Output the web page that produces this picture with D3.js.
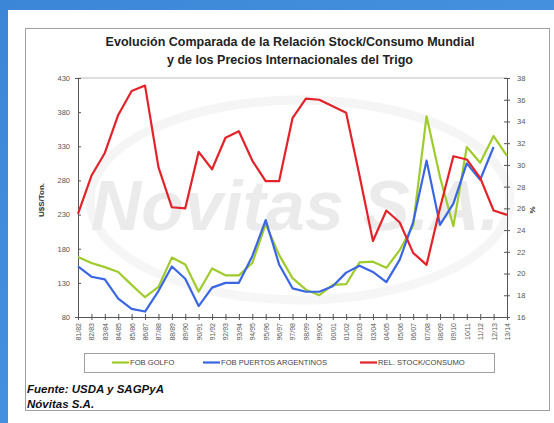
<!DOCTYPE html>
<html>
<head>
<meta charset="utf-8">
<script src="https://cdn.jsdelivr.net/npm/d3@7.9.0/dist/d3.min.js"></script>
<style>
  html, body { margin: 0; padding: 0; background: #3f8ddb; }
  svg { display: block; font-family: Arial, "Liberation Sans", sans-serif; }
</style>
</head>
<body>
<svg id="chart" width="554" height="423"></svg>
<script>
const seasons = ['81/82', '82/83', '83/84', '84/85', '85/86', '86/87', '87/88', '88/89', '89/90', '90/91',
  '91/92', '92/93', '93/94', '94/95', '95/96', '96/97', '97/98', '98/99', '99/00', '00/01',
  '01/02', '02/03', '03/04', '04/05', '05/06', '06/07', '07/08', '08/09', '09/10', '10/11',
  '11/12', '12/13', '13/14'];

// U$S/Ton.
const fobGolfo = [168, 159, 153, 146, 127, 109, 124, 167, 157, 117,
  151, 141, 141, 159, 216, 171, 137, 120, 112, 127,
  128, 160, 161, 152, 178, 214, 374, 285, 213, 329,
  306, 345, 316];

const fobArgentina = [154, 139, 135, 107, 92, 88, 118, 154, 136, 96,
  123, 130, 130, 169, 222, 157, 122, 117, 117, 125,
  145, 155, 146, 131, 164, 219, 309, 215, 246, 305,
  281, 329];

// %
const stockConsumo = [25.5, 29.0, 31.1, 34.6, 36.8, 37.3, 29.8, 26.1, 26.0, 31.2,
  29.6, 32.5, 33.1, 30.4, 28.5, 28.5, 34.3, 36.1, 36.0, 35.4,
  34.8, 29.0, 23.0, 25.8, 24.7, 21.9, 20.8, 26.0, 30.8, 30.5,
  28.8, 25.8, 25.4];

const leftTicks = [80, 130, 180, 230, 280, 330, 380, 430];
const rightTicks = [16, 18, 20, 22, 24, 26, 28, 30, 32, 34, 36, 38];

const svg = d3.select('#chart');

// background
const defs = svg.append('defs');
const grad = defs.append('linearGradient').attr('id', 'bg').attr('x1', 0).attr('y1', 0).attr('x2', 1).attr('y2', 1);
grad.append('stop').attr('offset', '0%').attr('stop-color', '#3b86d6');
grad.append('stop').attr('offset', '100%').attr('stop-color', '#4f9ae6');
svg.append('rect').attr('width', 554).attr('height', 423).attr('fill', 'url(#bg)');
svg.append('rect').attr('x', 8).attr('y', 10).attr('width', 546).attr('height', 413).attr('fill', '#fff');
svg.append('rect').attr('x', 25.5).attr('y', 28.5).attr('width', 524).attr('height', 382)
  .attr('fill', '#fff').attr('stroke', '#a0a0a0');

const plotLeft = 78, plotRight = 507, plotTop = 78, plotBottom = 317;

const x = d3.scalePoint().domain(seasons).range([plotLeft, plotRight]);
const yL = d3.scaleLinear().domain([80, 430]).range([plotBottom, plotTop]);
const yR = d3.scaleLinear().domain([16, 38]).range([plotBottom, plotTop]);

// watermark
const wm = svg.append('g').attr('opacity', 0.4);
wm.append('ellipse').attr('cx', 300).attr('cy', 200).attr('rx', 210).attr('ry', 100)
  .attr('fill', 'none').attr('stroke', '#e8e8e8').attr('stroke-width', 9);
wm.append('text').attr('x', 295).attr('y', 230).attr('text-anchor', 'middle')
  .attr('font-size', 70).attr('font-weight', 'bold').attr('font-style', 'italic')
  .attr('fill', '#cfcfcf').text('Novitas S.A.');

// plot frame
svg.append('line').attr('x1', plotLeft).attr('x2', plotRight).attr('y1', plotTop).attr('y2', plotTop)
  .attr('stroke', '#bdbdbd');

// axes
const tickText = (g) => g.selectAll('text').attr('fill', '#555').attr('font-size', 7.5);

const axL = svg.append('g').attr('transform', `translate(${plotLeft},0)`)
  .call(d3.axisLeft(yL).tickValues(leftTicks).tickSize(3).tickPadding(5));
axL.selectAll('.tick line').attr('x2', 3);
axL.call(tickText);

const axR = svg.append('g').attr('transform', `translate(${plotRight},0)`)
  .call(d3.axisRight(yR).tickValues(rightTicks).tickSize(3).tickPadding(7));
axR.selectAll('.tick line').attr('x1', -3);
axR.call(tickText);

const axB = svg.append('g').attr('transform', `translate(0,${plotBottom})`)
  .call(d3.axisBottom(x).tickSize(3).tickPadding(4));
axB.selectAll('.tick line').attr('y1', -3);
axB.selectAll('text')
  .attr('fill', '#555').attr('font-size', 7)
  .attr('transform', 'rotate(-90)')
  .attr('text-anchor', 'end')
  .attr('x', -6).attr('y', 0).attr('dy', '0.35em');

[axL, axR, axB].forEach((g) => {
  g.select('.domain').attr('stroke', '#555');
  g.selectAll('.tick line').attr('stroke', '#555');
});

// axis titles
svg.append('text').attr('transform', 'translate(44,200) rotate(-90)').attr('text-anchor', 'middle')
  .attr('font-size', 8).attr('font-weight', 'bold').attr('fill', '#333').text('U$S/Ton.');
svg.append('text').attr('transform', 'translate(535,210) rotate(-90)').attr('text-anchor', 'middle')
  .attr('font-size', 8).attr('font-weight', 'bold').attr('fill', '#333').text('%');

// title
svg.append('text').attr('x', 290).attr('y', 46).attr('text-anchor', 'middle')
  .attr('font-size', 12.5).attr('font-weight', 'bold').attr('fill', '#222')
  .text('Evolución Comparada de la Relación Stock/Consumo Mundial');
svg.append('text').attr('x', 290).attr('y', 64).attr('text-anchor', 'middle')
  .attr('font-size', 12.5).attr('font-weight', 'bold').attr('fill', '#222')
  .text('y de los Precios Internacionales del Trigo');

// lines
const lineL = d3.line().x((d, i) => x(seasons[i])).y((d) => yL(d));
const lineR = d3.line().x((d, i) => x(seasons[i])).y((d) => yR(d));

svg.append('path').attr('d', lineL(fobGolfo)).attr('fill', 'none')
  .attr('stroke', '#9fcc2c').attr('stroke-width', 2.2).attr('stroke-linejoin', 'round');
svg.append('path').attr('d', lineL(fobArgentina)).attr('fill', 'none')
  .attr('stroke', '#3a66e4').attr('stroke-width', 2.2).attr('stroke-linejoin', 'round');
svg.append('path').attr('d', lineR(stockConsumo)).attr('fill', 'none')
  .attr('stroke', '#e3222a').attr('stroke-width', 2.2).attr('stroke-linejoin', 'round');

// legend
svg.append('rect').attr('x', 84.5).attr('y', 353.5).attr('width', 410).attr('height', 19)
  .attr('fill', '#fff').attr('stroke', '#a0a0a0');
const legendItems = [
  { label: 'FOB GOLFO', color: '#9fcc2c', x: 112 },
  { label: 'FOB PUERTOS ARGENTINOS', color: '#3a66e4', x: 203 },
  { label: 'REL. STOCK/CONSUMO', color: '#e3222a', x: 360 },
];
legendItems.forEach((d) => {
  svg.append('line').attr('x1', d.x).attr('x2', d.x + 17).attr('y1', 362.5).attr('y2', 362.5)
    .attr('stroke', d.color).attr('stroke-width', 2.2);
  svg.append('text').attr('x', d.x + 18).attr('y', 365.3).attr('font-size', 7.6)
    .attr('fill', '#444').text(d.label);
});

// source
svg.append('text').attr('x', 27).attr('y', 393).attr('font-size', 11.5).attr('font-weight', 'bold')
  .attr('font-style', 'italic').attr('fill', '#111').text('Fuente: USDA y SAGPyA');
svg.append('text').attr('x', 27).attr('y', 408).attr('font-size', 11.5).attr('font-weight', 'bold')
  .attr('font-style', 'italic').attr('fill', '#111').text('Nóvitas S.A.');
</script>
</body>
</html>
